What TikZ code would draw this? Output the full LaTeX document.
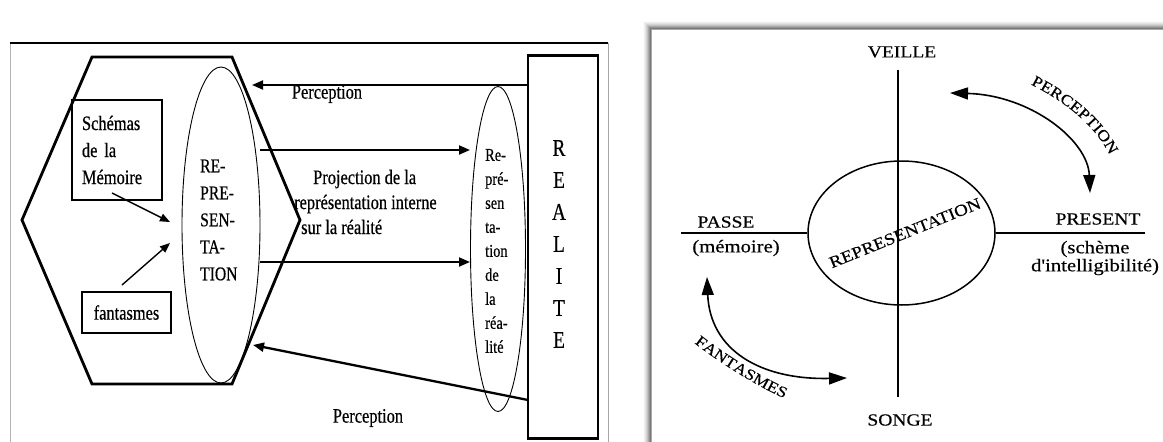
\documentclass[tikz,border=0pt]{standalone}
\usepackage{fontspec}
\usetikzlibrary{shapes.geometric,arrows.meta,decorations.text}
\newfontfamily\lfont[FakeStretch=0.8,FakeBold=0.5]{Liberation Serif}
\newfontfamily\rfont[FakeStretch=1.15,FakeBold=0.4]{Liberation Serif}
\begin{document}
\begin{tikzpicture}[x=1pt,y=-1pt,
  ltext/.style={font=\lfont\fontsize{20.5}{25}\selectfont, inner sep=0pt},
  lbox/.style={draw, rectangle, line width=1.2pt},
  thinell/.style={draw, ellipse, line width=0.9pt, inner sep=0pt},
  larr/.style={line width=2pt, -{Triangle[length=11pt,width=9pt]}},
  sarr/.style={line width=1.4pt, -{Triangle[length=10pt,width=8pt]}},
  rline/.style={line width=1.5pt},
  barr/.style={line width=1.6pt, {Triangle[length=18pt,width=12pt]}-{Triangle[length=18pt,width=12pt]}},
  rtext/.style={font=\rfont\fontsize{17}{18}\selectfont, inner sep=0pt},
  ptext/.style={font=\rfont\fontsize{18}{18}\selectfont, inner sep=0pt, align=center}
]
\useasboundingbox (0,0) rectangle (1163,442);
\fill[white] (0,0) rectangle (1163,442);

% ---------------- left panel frame
\draw[gray!60, line width=1pt] (10,442) -- (10,43);
\draw[line width=1.5pt] (10,43) -- (608,43);
\draw[gray!70, line width=0.8pt] (608,43) -- (608,442);

% hexagon
\draw[line width=2.8pt, line join=miter]
  (92,57) -- (232,57) -- (300,220) -- (232,384) -- (92,384) -- (22,220) -- cycle;

% boxes
\node[lbox, ltext, text width=70pt, inner xsep=10pt, minimum height=100pt, align=left,
      font=\lfont\fontsize{20.5}{27}\selectfont] (schemas) at (117,150) {Schémas\\de la\\Mémoire};
\node[lbox, ltext, minimum width=89pt, minimum height=41pt] (fant) at (126.5,312.5) {fantasmes};

% representation ellipse
\node[thinell, minimum width=78pt, minimum height=316pt] (rep) at (221,225) {};
\node[ltext, anchor=west, align=left, font=\lfont\fontsize{19.5}{27}\selectfont] (reptext) at (200,220)
  {RE-\\PRE-\\SEN-\\TA-\\TION};

% representation de la realite ellipse
\node[thinell, minimum width=55pt, minimum height=325pt] (rr) at (498,249) {};
\node[ltext, anchor=west, align=left, font=\lfont\fontsize{18}{24}\selectfont] (rrtext) at (485,251)
  {Re-\\pré-\\sen\\ta-\\tion\\de\\la\\réa-\\lité};

% REALITE box
\node[draw, rectangle, line width=2.5pt, minimum width=70pt, minimum height=383pt,
      inner sep=0pt] (real) at (563,247) {};
\node[ltext, align=center, font=\lfont\fontsize{24}{32}\selectfont] (realtext) at (559,244)
  {R\\E\\A\\L\\I\\T\\E};

% arrow end points
\coordinate (p1s) at (528,85);
\coordinate (p1e) at (252,85);
\coordinate (j1s) at (260,150);
\coordinate (j1e) at (470,150);
\coordinate (j2s) at (260,262);
\coordinate (j2e) at (470,262);
\coordinate (p2s) at (528,400);
\coordinate (p2e) at (253,345);
\coordinate (sa) at (112,193);
\coordinate (sb) at (170,222);
\coordinate (fa1) at (122,285);
\coordinate (fb1) at (170,243);

\draw[larr] (p1s) -- (p1e);
\draw[larr] (j1s) -- (j1e);
\draw[larr] (j2s) -- (j2e);
\draw[larr, line width=2.3pt] (p2s) -- (p2e);
\draw[sarr] (sa) -- (sb);
\draw[sarr] (fa1) -- (fb1);

% labels
\node[ltext] (perc1) at (327,94) {Perception};
\node[ltext, anchor=west, align=left] (proj) at (294,202)
  {\hspace*{19pt}Projection de la\\représentation interne\\\hspace*{7pt}sur la réalité};
\node[ltext] (perc2) at (368,418) {Perception};

% ---------------- right panel frame (shadow)
\foreach \i/\o in {0/0.34,1/0.27,2/0.21,3/0.15,4/0.1,5/0.07,6/0.04,7/0.02}{
  \draw[line width=1.1pt, opacity=\o] (651-\i,442) -- (651-\i,29-\i) -- (1163,29-\i);
}

% axes and ellipse
\node[draw, ellipse, line width=1.5pt, minimum width=187pt, minimum height=144pt, inner sep=0pt] (E) at (901.5,233) {};
\coordinate (vt) at (898,70);
\coordinate (vb) at (898,397);
\coordinate (hl) at (681,233);
\coordinate (hr) at (1145,233);
\draw[rline] (vt) -- (vb);
\draw[rline] (hl) -- (E.west);
\draw[rline] (E.east) -- (hr);

\node[rtext, rotate=22, font=\rfont\fontsize{16.5}{16.5}\selectfont] (reptxt) at (905,233) {REPRESENTATION};

\node[rtext] (veille) at (902,52) {VEILLE};
\node[rtext] (songe) at (900,420) {SONGE};
\node[rtext] (passe) at (726,222) {PASSE};
\node[ptext] (memo) at (736,248) {(mémoire)};
\node[rtext] (present) at (1098,219) {PRESENT};
\node[ptext] (scheme) at (1095,258) {(schème\\d'intelligibilité)};

% curved arrows
\coordinate (pa) at (950,93);
\coordinate (pb) at (1090,193);
\draw[barr] (pa) .. controls (1030,95) and (1088,140) .. (pb);
\coordinate (fa) at (707,277);
\coordinate (fb) at (847,378);
\draw[barr] (fa) .. controls (710,350) and (760,380) .. (fb);

% curved labels
\path[decorate, decoration={text along path, text align=center,
   text={|\rfont\fontsize{15.5}{15.5}\selectfont|PERCEPTION}}]
   (1030,84) .. controls (1062,100) and (1095,124) .. (1110,156);
\path[decorate, decoration={text along path, text align=center,
   text={|\rfont\fontsize{15.5}{15.5}\selectfont|FANTASMES}}]
   (693,342) .. controls (718,362) and (760,388) .. (786,399);
\end{tikzpicture}
\end{document}
